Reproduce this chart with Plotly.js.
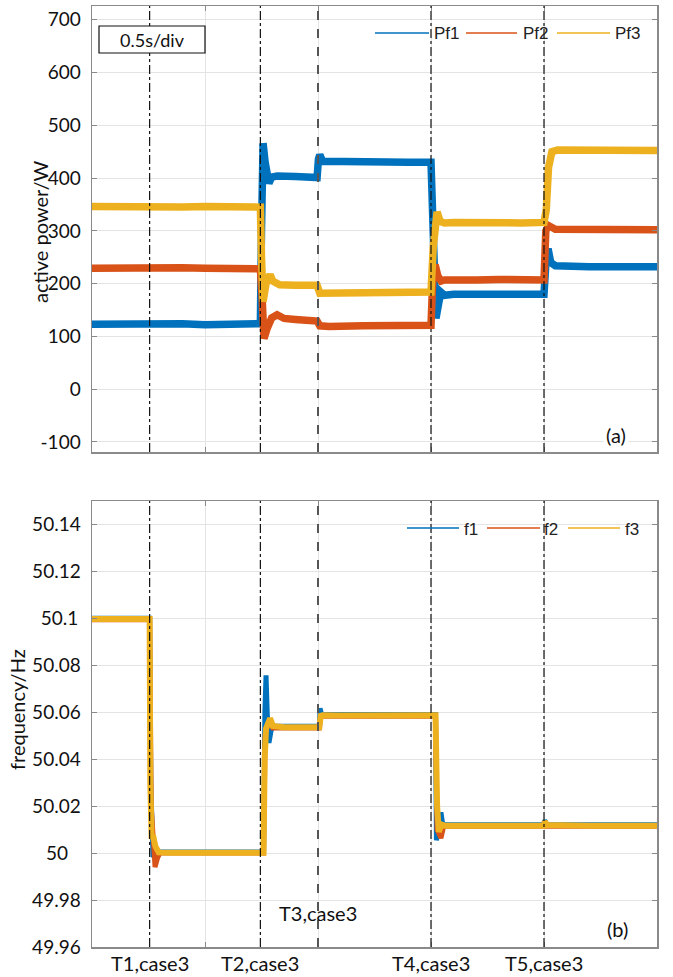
<!DOCTYPE html>
<html>
<head>
<meta charset="utf-8">
<script src="https://cdn.plot.ly/plotly-3.0.1.min.js"></script>
<style>html,body{margin:0;padding:0;background:#fff;}#chart{width:673px;height:977px;}</style>
</head>
<body>
<div id="chart"></div>
<script>
// ---------- DATA ----------
// time in seconds (0.5 s/div, 5 divisions)
const eventTimes  = [0.255, 0.745, 1.0, 1.5, 2.0];
const eventLabels = ["T1,case3", "T2,case3", "T3,case3", "T4,case3", "T5,case3"];

// active power (W)
const powerNames = ["Pf1", "Pf2", "Pf3"];
const tP1 = [0, 0.1, 0.2, 0.3, 0.4, 0.5, 0.6, 0.7, 0.745, 0.75, 0.757, 0.766, 0.775, 0.783, 0.795, 0.82, 0.9, 0.95, 0.996, 1.002, 1.008, 1.02, 1.1, 1.2, 1.3, 1.4, 1.5, 1.51, 1.522, 1.535, 1.544, 1.56, 1.6, 1.7, 1.8, 1.9, 2.0, 2.01, 2.018, 2.03, 2.05, 2.2, 2.35, 2.5];
const P1  = [123, 124, 122, 123, 124, 122, 123, 124, 124, 300, 466, 430, 392, 390, 402, 404, 403, 402, 401, 436, 444, 432, 431, 430, 432, 430, 430, 250, 134, 165, 184, 178, 180, 180, 179, 180, 180, 250, 266, 240, 234, 232, 233, 232];
const tP2 = [0, 0.1, 0.2, 0.3, 0.4, 0.5, 0.6, 0.7, 0.745, 0.752, 0.761, 0.775, 0.795, 0.819, 0.85, 0.9, 0.95, 0.996, 1.008, 1.05, 1.2, 1.35, 1.5, 1.507, 1.518, 1.53, 1.545, 1.56, 1.6, 1.7, 1.8, 1.9, 2.0, 2.008, 2.02, 2.05, 2.2, 2.35, 2.5];
const P2  = [229, 230, 228, 229, 230, 229, 230, 229, 228, 180, 96, 115, 135, 141, 134, 132, 131, 129, 120, 119, 120, 119, 121, 200, 236, 215, 205, 207, 208, 207, 208, 207, 207, 300, 310, 303, 302, 301, 302];
const tP3 = [0, 0.1, 0.2, 0.3, 0.4, 0.5, 0.6, 0.7, 0.745, 0.75, 0.757, 0.770, 0.788, 0.80, 0.83, 0.9, 0.95, 0.996, 1.008, 1.05, 1.2, 1.35, 1.5, 1.51, 1.527, 1.54, 1.56, 1.6, 1.7, 1.8, 1.9, 2.0, 2.01, 2.02, 2.035, 2.06, 2.2, 2.35, 2.5];
const P3  = [346, 345, 347, 346, 345, 346, 347, 346, 345, 250, 166, 200, 217, 205, 198, 197, 198, 197, 182, 182, 183, 182, 184, 270, 336, 318, 315, 316, 315, 316, 315, 316, 340, 420, 450, 453, 452, 453, 452];

// frequency (Hz)
const freqNames = ["f1", "f2", "f3"];
const tF1 = [0, 0.1, 0.2, 0.255, 0.26, 0.27, 0.288, 0.30, 0.4, 0.6, 0.759, 0.765, 0.770, 0.776, 0.783, 0.792, 0.80, 0.9, 1.006, 1.009, 1.016, 1.03, 1.2, 1.4, 1.52, 1.524, 1.532, 1.544, 1.553, 1.565, 1.7, 1.9, 1.998, 2.003, 2.012, 2.2, 2.5];
const F1  = [50.1001, 50.1001, 50.1001, 50.1001, 50.03, 49.999, 49.998, 50.0005, 50.0005, 50.0005, 50.0005, 50.06, 50.0757, 50.058, 50.047, 50.052, 50.054, 50.054, 50.054, 50.0617, 50.059, 50.059, 50.059, 50.059, 50.059, 50.0055, 50.009, 50.0174, 50.0115, 50.0121, 50.0121, 50.0121, 50.0121, 50.014, 50.0121, 50.0121, 50.0121];
const tF2 = [0, 0.1, 0.2, 0.255, 0.262, 0.279, 0.29, 0.30, 0.45, 0.65, 0.759, 0.766, 0.775, 0.788, 0.80, 0.95, 1.006, 1.012, 1.05, 1.3, 1.52, 1.527, 1.544, 1.556, 1.7, 1.9, 2.0, 2.5];
const F2  = [50.0994, 50.0994, 50.0994, 50.0994, 50.02, 49.994, 49.998, 50.0, 50.0, 50.0, 50.0, 50.05, 50.0535, 50.056, 50.0533, 50.0533, 50.0533, 50.0583, 50.0583, 50.0583, 50.0583, 50.01, 50.0064, 50.0114, 50.0114, 50.0114, 50.0114, 50.0114];
const tF3 = [0, 0.05, 0.1, 0.15, 0.2, 0.255, 0.258, 0.264, 0.270, 0.280, 0.295, 0.35, 0.45, 0.55, 0.65, 0.759, 0.764, 0.770, 0.778, 0.788, 0.80, 0.85, 0.95, 1.006, 1.012, 1.02, 1.1, 1.25, 1.4, 1.52, 1.527, 1.535, 1.545, 1.56, 1.7, 1.85, 1.998, 2.004, 2.012, 2.2, 2.35, 2.5];
const F3  = [50.0997, 50.0996, 50.0997, 50.0996, 50.0997, 50.0997, 50.03, 50.006, 50.0077, 50.003, 50.0003, 50.0002, 50.0003, 50.0002, 50.0003, 50.0002, 50.04, 50.053, 50.055, 50.0574, 50.0542, 50.0536, 50.0536, 50.0536, 50.0585, 50.0587, 50.0586, 50.0587, 50.0586, 50.0587, 50.02, 50.009, 50.0122, 50.0117, 50.0117, 50.0117, 50.0117, 50.0135, 50.012, 50.0117, 50.0117, 50.0117];

const powerTicks = [-100, 0, 100, 200, 300, 400, 500, 600, 700];
const powerTickText = ["-100", "0", "100", "200", "300", "400", "500", "600", "700"];
const freqTicks = [49.96, 49.98, 50, 50.02, 50.04, 50.06, 50.08, 50.1, 50.12, 50.14];
const freqTickText = ["49.96", "49.98", "50\u2002\u2006", "50.02", "50.04", "50.06", "50.08", "50.1\u2009", "50.12", "50.14"];

// ---------- STYLE ----------
const colors = ["#0072BD", "#D95319", "#EDB120"];
const W = 673, H = 977;
const px = x => x / W;
const py = y => 1 - y / H;
const tickFont = {family: "Lato, 'Open Sans', sans-serif", size: 19, color: "#111"};
const titleFont = {family: "Lato, 'Open Sans', sans-serif", size: 20, color: "#111"};
const frame = "#8a8a8a";

const traces = [
  {x: tP1, y: P1, name: powerNames[0]},
  {x: tP2, y: P2, name: powerNames[1]},
  {x: tP3, y: P3, name: powerNames[2]}
].map((d, i) => Object.assign(d, {type: "scatter", mode: "lines", xaxis: "x", yaxis: "y",
  line: {color: colors[i], width: 7.5}, showlegend: false, hoverinfo: "skip"}))
.concat([
  {x: tF1, y: F1, name: freqNames[0]},
  {x: tF2, y: F2, name: freqNames[1]},
  {x: tF3, y: F3, name: freqNames[2]}
].map((d, i) => Object.assign(d, {type: "scatter", mode: "lines", xaxis: "x2", yaxis: "y2",
  line: {color: colors[i], width: i === 2 ? 6 : 5}, showlegend: false, hoverinfo: "skip"})));

const xCommon = {
  domain: [px(92), px(657)], range: [0, 2.5], tickmode: "linear", tick0: 0, dtick: 0.5,
  showgrid: true, gridcolor: "#e4e4e4", gridwidth: 1, zeroline: false,
  showline: true, linecolor: frame, linewidth: 1.5, mirror: "ticks",
  ticks: "inside", ticklen: 5, tickcolor: frame, showticklabels: false
};
const yCommon = {
  showgrid: true, gridcolor: "#e4e4e4", gridwidth: 1, zeroline: false,
  showline: true, linecolor: frame, linewidth: 1.5, mirror: "ticks",
  ticks: "inside", ticklen: 5, tickcolor: frame, tickfont: tickFont,
  tickmode: "array", ticklabelstandoff: 6
};

const shapes = [];
const annotations = [];

// event lines
eventTimes.forEach((t, i) => {
  const isT3 = i === 2;
  ["y domain", "y2 domain"].forEach((yr, k) => {
    shapes.push({type: "line", xref: k === 0 ? "x" : "x2", yref: yr, x0: t, x1: t, y0: 0, y1: 1,
      layer: "above", line: {color: isT3 ? "#555555" : "#111111", width: isT3 ? 2 : 1.2,
      dash: isT3 ? "dash" : "dashdot"}});
  });
  annotations.push({xref: "x2", yref: "paper", x: t, y: isT3 ? py(913) : py(963),
    text: eventLabels[i], showarrow: false, xanchor: "center", yanchor: "middle",
    font: titleFont});
});

// legends (drawn manually to match thin sample lines)
const legTop = [[375, 429, 432], [466, 517, 521], [557, 610, 613]];
const legBot = [[407, 459, 462], [487, 540, 542], [568, 620, 623]];
const legFont = {family: "'Liberation Sans', Arial, sans-serif", size: 17, color: "#222"};
powerNames.forEach((n, i) => {
  const [a, b, c] = legTop[i];
  shapes.push({type: "line", xref: "paper", yref: "paper", x0: px(a), x1: px(b), y0: py(33), y1: py(33),
    line: {color: colors[i], width: 1.3}});
  annotations.push({xref: "paper", yref: "paper", x: px(c), y: py(34), text: n, showarrow: false,
    xanchor: "left", yanchor: "middle", font: legFont});
});
freqNames.forEach((n, i) => {
  const [a, b, c] = legBot[i];
  shapes.push({type: "line", xref: "paper", yref: "paper", x0: px(a), x1: px(b), y0: py(528), y1: py(528),
    line: {color: colors[i], width: 1.3}});
  annotations.push({xref: "paper", yref: "paper", x: px(c), y: py(529), text: n, showarrow: false,
    xanchor: "left", yanchor: "middle", font: legFont});
});

// 0.5s/div box
shapes.push({type: "rect", xref: "paper", yref: "paper", x0: px(99), x1: px(205), y0: py(53), y1: py(26),
  fillcolor: "#fff", line: {color: "#111", width: 1.2}, layer: "above"});
annotations.push({xref: "paper", yref: "paper", x: px(152), y: py(40), text: "0.5s/div", showarrow: false,
  xanchor: "center", yanchor: "middle", font: Object.assign({}, tickFont, {size: 18})});

// panel tags
annotations.push({xref: "paper", yref: "paper", x: px(616), y: py(435), text: "(a)", showarrow: false,
  xanchor: "center", yanchor: "middle", bgcolor: "#fff", borderpad: 2, font: titleFont});
annotations.push({xref: "paper", yref: "paper", x: px(617), y: py(929), text: "(b)", showarrow: false,
  xanchor: "center", yanchor: "middle", bgcolor: "#fff", borderpad: 2, font: titleFont});

// axis titles
annotations.push({xref: "paper", yref: "paper", x: px(40), y: py(232), text: "active power/W", showarrow: false,
  textangle: -90, xanchor: "center", yanchor: "middle", font: titleFont});
annotations.push({xref: "paper", yref: "paper", x: px(17), y: py(710), text: "frequency/Hz", showarrow: false,
  textangle: -90, xanchor: "center", yanchor: "middle", font: titleFont});

const layout = {
  width: W, height: H,
  margin: {l: 0, r: 0, t: 0, b: 0},
  paper_bgcolor: "#fff", plot_bgcolor: "#fff",
  showlegend: false,
  xaxis: Object.assign({}, xCommon, {anchor: "y"}),
  yaxis: Object.assign({}, yCommon, {domain: [py(452), py(6)], range: [-119, 726],
    tickvals: powerTicks, ticktext: powerTickText, anchor: "x"}),
  xaxis2: Object.assign({}, xCommon, {anchor: "y2"}),
  yaxis2: Object.assign({}, yCommon, {domain: [py(947), py(501)], range: [49.96, 50.15],
    tickvals: freqTicks, ticktext: freqTickText, anchor: "x2"}),
  shapes: shapes,
  annotations: annotations
};

Plotly.newPlot("chart", traces, layout, {staticPlot: true, displayModeBar: false});
</script>
</body>
</html>
